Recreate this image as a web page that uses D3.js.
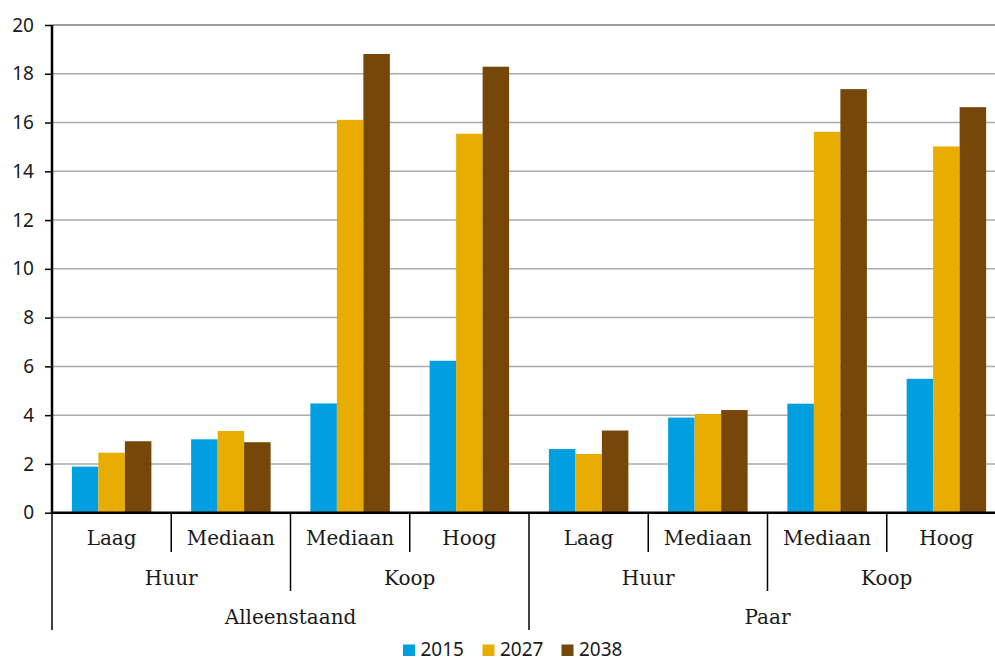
<!DOCTYPE html>
<html>
<head>
<meta charset="utf-8">
<script src="https://cdn.jsdelivr.net/npm/d3@7"></script>
<style>
  html, body { margin: 0; padding: 0; background: #fff; }
  svg { display: block; }
</style>
</head>
<body>
<svg id="chart" width="995" height="660"></svg>
<script>
// Household type, tenure and income level for each bar group
const households = ["Alleenstaand", "Paar"];
const tenures = ["Huur", "Koop"];
const groupLabels = ["Laag", "Mediaan", "Mediaan", "Hoog", "Laag", "Mediaan", "Mediaan", "Hoog"];
const years = ["2015", "2027", "2038"];

// Values per year, one per group (left to right)
const values2015 = [1.89, 3.01, 4.48, 6.23, 2.61, 3.90, 4.47, 5.49];
const values2027 = [2.46, 3.35, 16.11, 15.54, 2.41, 4.05, 15.62, 15.02];
const values2038 = [2.93, 2.89, 18.81, 18.29, 3.37, 4.21, 17.37, 16.63];

const yTicks = [0, 2, 4, 6, 8, 10, 12, 14, 16, 18, 20];
const colors = ["#009fe0", "#e9ac00", "#774709"];

const seriesValues = [values2015, values2027, values2038];
const groups = groupLabels.map((label, i) => ({
  id: i,
  label,
  tenure: tenures[Math.floor(i / 2) % 2],
  household: households[Math.floor(i / 4)],
  values: years.map((yr, k) => ({ year: yr, value: seriesValues[k][i] }))
}));

const svg = d3.select("#chart");
const plotLeft = 52, plotRight = 1006, plotTop = 25, plotBottom = 512.7;

const x0 = d3.scaleBand().domain(groups.map(g => g.id)).range([plotLeft, plotRight]).padding(0);
const x1 = d3.scaleBand().domain(years).range([0, x0.bandwidth()]).paddingInner(0).paddingOuter(0.75);
const y = d3.scaleLinear().domain([0, 20]).range([plotBottom, plotTop]);
const color = d3.scaleOrdinal().domain(years).range(colors);

// Horizontal gridlines
svg.append("g")
  .selectAll("line")
  .data(yTicks.filter(t => t > 0))
  .join("line")
  .attr("x1", plotLeft).attr("x2", 995)
  .attr("y1", d => y(d)).attr("y2", d => y(d))
  .attr("stroke", d => d === 20 ? "#7a7a7a" : "#ababab")
  .attr("stroke-width", 1.5);

// Bars
svg.append("g")
  .selectAll("g")
  .data(groups)
  .join("g")
  .attr("transform", d => `translate(${x0(d.id)},0)`)
  .selectAll("rect")
  .data(d => d.values)
  .join("rect")
  .attr("x", d => x1(d.year))
  .attr("width", x1.bandwidth())
  .attr("y", d => y(d.value))
  .attr("height", d => y(0) - y(d.value))
  .attr("fill", d => color(d.year));

// Y axis
const yAxis = svg.append("g")
  .attr("transform", `translate(${plotLeft},0)`)
  .call(d3.axisLeft(y).tickValues(yTicks).tickSize(7).tickPadding(11).tickFormat(d3.format("d")));
yAxis.select(".domain").attr("stroke", "#000").attr("stroke-width", 2.5).attr("d", `M0,${plotTop}V${plotBottom}`);
yAxis.selectAll(".tick line").attr("stroke", "#000").attr("stroke-width", 1.5);
yAxis.selectAll(".tick text")
  .attr("font-family", "'Noto Sans', 'Open Sans', sans-serif")
  .attr("font-size", 19)
  .attr("fill", "#1a1a1a");

// X axis baseline
svg.append("line")
  .attr("x1", plotLeft - 1).attr("x2", 995)
  .attr("y1", plotBottom).attr("y2", plotBottom)
  .attr("stroke", "#000").attr("stroke-width", 2.5);

// Hierarchical category axis
const catAxis = svg.append("g");
const serif = "'DejaVu Serif', serif";
const level1Bottom = 552, level2Bottom = 591, level3Bottom = 630;

// group boundaries
const boundaries = d3.range(0, groups.length + 1).map(i => ({
  x: i < groups.length ? x0(i) : plotRight,
  len: i % 4 === 0 ? level3Bottom : (i % 2 === 0 ? level2Bottom : level1Bottom)
}));
catAxis.selectAll("line")
  .data(boundaries)
  .join("line")
  .attr("x1", d => d.x).attr("x2", d => d.x)
  .attr("y1", plotBottom).attr("y2", d => d.len)
  .attr("stroke", "#000").attr("stroke-width", 1.5);

// Level 1: income level
catAxis.append("g").selectAll("text")
  .data(groups)
  .join("text")
  .attr("x", d => x0(d.id) + x0.bandwidth() / 2)
  .attr("y", 545)
  .attr("text-anchor", "middle")
  .attr("font-family", serif).attr("font-size", 20).attr("fill", "#1a1a1a")
  .text(d => d.label);

// Level 2: tenure
const tenureGroups = d3.groups(groups, g => Math.floor(g.id / 2)).map(([k, gs]) => ({
  label: gs[0].tenure,
  x: (x0(gs[0].id) + x0(gs[gs.length - 1].id) + x0.bandwidth()) / 2
}));
catAxis.append("g").selectAll("text")
  .data(tenureGroups)
  .join("text")
  .attr("x", d => d.x)
  .attr("y", 584.5)
  .attr("text-anchor", "middle")
  .attr("font-family", serif).attr("font-size", 20).attr("fill", "#1a1a1a")
  .text(d => d.label);

// Level 3: household type
const householdGroups = d3.groups(groups, g => g.household).map(([k, gs]) => ({
  label: k,
  x: (x0(gs[0].id) + x0(gs[gs.length - 1].id) + x0.bandwidth()) / 2
}));
catAxis.append("g").selectAll("text")
  .data(householdGroups)
  .join("text")
  .attr("x", d => d.x)
  .attr("y", 623.5)
  .attr("text-anchor", "middle")
  .attr("font-family", serif).attr("font-size", 20).attr("fill", "#1a1a1a")
  .text(d => d.label);

// Legend
const legendX = [403, 482.5, 561.5];
const legend = svg.append("g").selectAll("g")
  .data(years)
  .join("g")
  .attr("transform", (d, i) => `translate(${legendX[i]},643.5)`);
legend.append("rect")
  .attr("y", 1)
  .attr("width", 12).attr("height", 11.5)
  .attr("fill", d => color(d));
legend.append("text")
  .attr("x", 17.5).attr("y", 12)
  .attr("font-family", "'Noto Sans', 'Open Sans', sans-serif")
  .attr("font-size", 19).attr("fill", "#1a1a1a")
  .text(d => d);
</script>
</body>
</html>
